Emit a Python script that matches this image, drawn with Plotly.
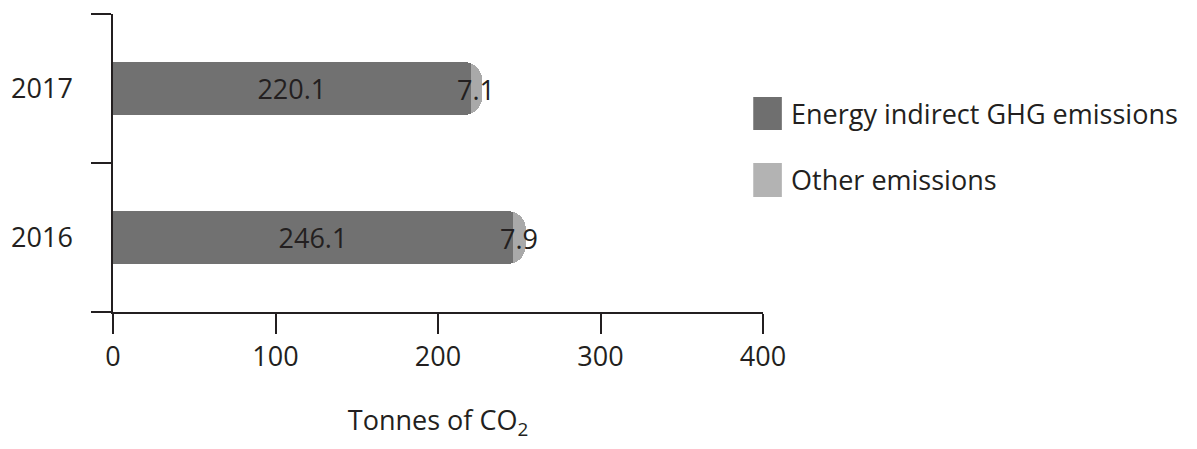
import plotly.graph_objects as go

years = ["2016", "2017"]
energy = [246.1, 220.1]
other = [7.9, 7.1]
series_names = ["Energy indirect GHG emissions", "Other emissions"]
series_colors = ["#717171", "#a9a9a9"]
legend_colors = ["#6f6f6f", "#b3b3b3"]
x_ticks = [0, 100, 200, 300, 400]

TXT = "#231f20"
FONT = "Open Sans"
FS = 27

fig = go.Figure()
fig.add_trace(go.Bar(
    y=years, x=energy, orientation="h", name=series_names[0],
    marker=dict(color=series_colors[0], line=dict(width=0), cornerradius=18),
    width=0.356, text=[f"{v:.1f}" for v in energy], textposition="inside",
    insidetextanchor="middle", textfont=dict(color=TXT, size=FS, family=FONT),
    showlegend=False, hoverinfo="skip",
))
fig.add_trace(go.Bar(
    y=years, x=other, orientation="h", name=series_names[1],
    marker=dict(color=series_colors[1], line=dict(width=0)),
    width=0.356, showlegend=False, hoverinfo="skip",
))

# value labels for the small segment, centred on it (overflowing like the original)
for idx, (e, o) in enumerate(zip(energy, other)):
    fig.add_annotation(x=e + o / 2, y=idx, text=f"{o:.1f}", showarrow=False,
                       xanchor="center", yanchor="middle", yshift=-1,
                       font=dict(color=TXT, size=FS, family=FONT))

# manual legend (large swatches)
sw_y = [(0.7215, 0.611), (0.50, 0.386)]
for i, name in enumerate(series_names):
    y0, y1 = sw_y[i]
    fig.add_shape(type="rect", xref="paper", yref="paper",
                  x0=0.985, x1=1.029, y0=y1, y1=y0,
                  fillcolor=legend_colors[i], line=dict(width=0))
    fig.add_annotation(xref="paper", yref="paper", x=1.040, y=(y0 + y1) / 2,
                       text=name, showarrow=False, xanchor="left", yanchor="middle",
                       font=dict(color=TXT, size=FS, family=FONT))

fig.update_layout(
    width=1197, height=449,
    margin=dict(l=113, r=434, t=14, b=137),
    paper_bgcolor="white", plot_bgcolor="white",
    barmode="stack", bargap=0.3,
    font=dict(family=FONT, size=FS, color=TXT),
)
fig.update_xaxes(
    range=[0, 400], tickvals=x_ticks, ticks="outside", ticklen=20, tickwidth=1.5,
    tickcolor=TXT, showline=True, linecolor=TXT, linewidth=1.5, showgrid=False,
    zeroline=False, ticklabelstandoff=0,
    tickfont=dict(size=FS, family=FONT, color=TXT),
    title=dict(text="Tonnes of CO<sub>2</sub>", standoff=38,
               font=dict(size=FS, family=FONT, color=TXT)),
)
fig.update_yaxes(
    type="category", categoryorder="array", categoryarray=years,
    range=[-0.5, 1.5], ticks="outside", tickson="boundaries", ticklen=20,
    tickwidth=1.5, tickcolor=TXT, showline=True, linecolor=TXT, linewidth=1.5,
    showgrid=False, ticklabelstandoff=33,
    tickfont=dict(size=FS, family=FONT, color=TXT),
)

fig.write_html("out.html", config={"displayModeBar": False},
               post_script="document.body.style.margin='0';")
